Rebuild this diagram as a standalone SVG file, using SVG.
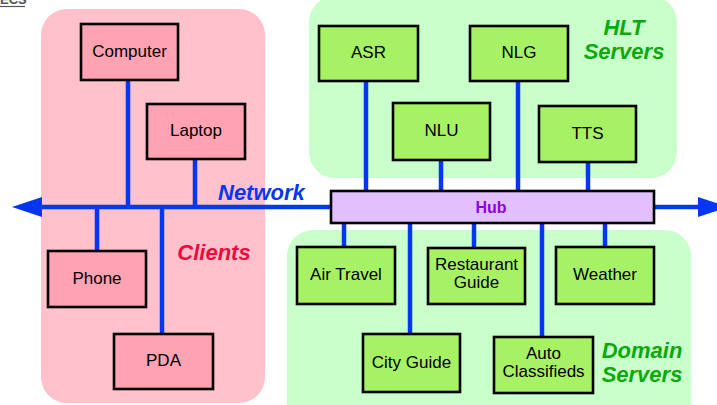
<svg xmlns="http://www.w3.org/2000/svg" width="717" height="405" viewBox="0 0 717 405">
<defs>
<style>
.panelP{fill:#FFC1CC;}
.panelG{fill:#C9FFCA;}
.bp{fill:#FFA2B2;stroke:#000;stroke-width:2.6;}
.bg{fill:#A7F264;stroke:#000;stroke-width:2.6;}
.t{font-family:"Liberation Sans",Arial,sans-serif;font-size:17px;fill:#000;text-anchor:middle;}
.lbl{font-family:"Liberation Sans",Arial,sans-serif;font-size:22px;font-weight:bold;font-style:italic;}
.ln{stroke:#0536F0;stroke-width:4.5;fill:none;}
</style>
<marker id="ah" markerUnits="userSpaceOnUse" markerWidth="32" markerHeight="20" refX="0" refY="10" orient="auto-start-reverse">
<path d="M0,0 L30,10 L0,20 Z" fill="#0536F0"/>
</marker>
</defs>
<text x="0" y="4" font-family="Liberation Sans,Arial,sans-serif" font-size="13" font-weight="bold" fill="#555">ECS</text>
<line x1="0" y1="6.5" x2="25" y2="6.5" stroke="#555" stroke-width="1.2"/>
<g id="panel-clients"><rect class="panelP" x="41" y="9" width="224" height="394" rx="26"/></g>
<g id="panel-hlt"><rect class="panelG" x="309" y="-4" width="368" height="182" rx="26"/></g>
<g id="panel-domain"><rect class="panelG" x="287" y="230" width="404" height="200" rx="26"/></g>
<g id="connectors">
<line class="ln" x1="42" y1="207" x2="698" y2="207" marker-start="url(#ah)" marker-end="url(#ah)"/>
<line class="ln" x1="128" y1="80" x2="128" y2="207"/>
<line class="ln" x1="195" y1="159" x2="195" y2="207"/>
<line class="ln" x1="97" y1="207" x2="97" y2="251"/>
<line class="ln" x1="162" y1="207" x2="162" y2="334"/>
<line class="ln" x1="366" y1="81" x2="366" y2="191"/>
<line class="ln" x1="441" y1="160" x2="441" y2="191"/>
<line class="ln" x1="518" y1="81" x2="518" y2="191"/>
<line class="ln" x1="588" y1="162" x2="588" y2="191"/>
<line class="ln" x1="344" y1="223" x2="344" y2="247"/>
<line class="ln" x1="410" y1="223" x2="410" y2="334"/>
<line class="ln" x1="474" y1="223" x2="474" y2="248"/>
<line class="ln" x1="542" y1="223" x2="542" y2="337"/>
<line class="ln" x1="605" y1="223" x2="605" y2="247"/>
</g>
<g id="hub"><rect x="331" y="191" width="323" height="32" fill="#E2C0FF" stroke="#000" stroke-width="2.6"/>
<text x="491" y="212.5" font-family="Liberation Sans,Arial,sans-serif" font-size="16" font-weight="bold" fill="#8C00E8" text-anchor="middle">Hub</text></g>
<g id="computer"><rect class="bp" x="81" y="24" width="97" height="56"/><text class="t" x="129.5" y="56.5">Computer</text></g>
<g id="laptop"><rect class="bp" x="147" y="104" width="98" height="55"/><text class="t" x="196" y="136">Laptop</text></g>
<g id="phone"><rect class="bp" x="48" y="251" width="98" height="56"/><text class="t" x="97" y="283.5">Phone</text></g>
<g id="pda"><rect class="bp" x="114" y="334" width="99" height="55"/><text class="t" x="163.5" y="366">PDA</text></g>
<g id="asr"><rect class="bg" x="319" y="26" width="99" height="55"/><text class="t" x="368.5" y="58">ASR</text></g>
<g id="nlg"><rect class="bg" x="470" y="26" width="98" height="55"/><text class="t" x="519" y="58">NLG</text></g>
<g id="nlu"><rect class="bg" x="393" y="103" width="97" height="57"/><text class="t" x="441.5" y="136">NLU</text></g>
<g id="tts"><rect class="bg" x="539" y="106" width="97" height="56"/><text class="t" x="587.5" y="138.5">TTS</text></g>
<g id="air-travel"><rect class="bg" x="297" y="247" width="98" height="57"/><text class="t" x="346" y="280">Air Travel</text></g>
<g id="restaurant-guide"><rect class="bg" x="428" y="248" width="97" height="56"/><text class="t" x="476.5" y="269.5">Restaurant</text><text class="t" x="476.5" y="287.5">Guide</text></g>
<g id="weather"><rect class="bg" x="556" y="247" width="98" height="57"/><text class="t" x="605" y="280">Weather</text></g>
<g id="city-guide"><rect class="bg" x="363" y="334" width="97" height="58"/><text class="t" x="411.5" y="367.5">City Guide</text></g>
<g id="auto-classifieds"><rect class="bg" x="494" y="337" width="99" height="56"/><text class="t" x="543.5" y="359">Auto</text><text class="t" x="543.5" y="377">Classifieds</text></g>
<text class="lbl" x="218" y="200" fill="#0536F0">Network</text>
<text class="lbl" x="214" y="260" fill="#EE0A3A" text-anchor="middle">Clients</text>
<text class="lbl" x="624" y="35" fill="#0CA80C" text-anchor="middle">HLT</text>
<text class="lbl" x="624" y="59" fill="#0CA80C" text-anchor="middle">Servers</text>
<text class="lbl" x="642" y="358" fill="#0CA80C" text-anchor="middle">Domain</text>
<text class="lbl" x="642" y="382" fill="#0CA80C" text-anchor="middle">Servers</text>
</svg>
